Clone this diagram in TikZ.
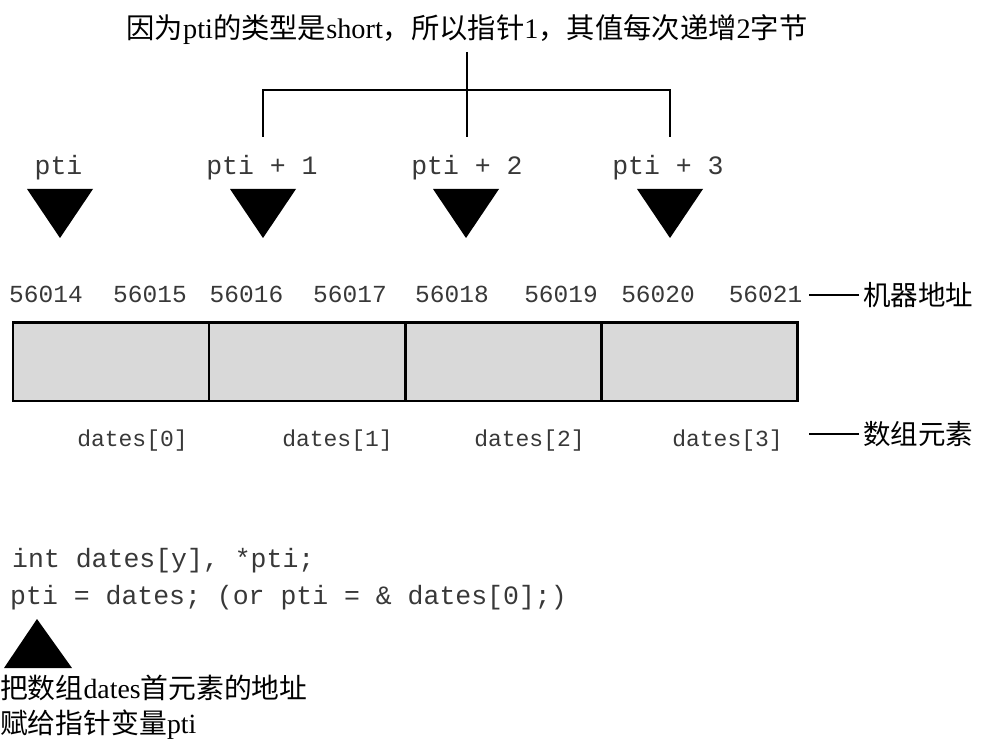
\documentclass[tikz,border=0pt]{standalone}
\usepackage{fontspec}
\setmainfont{Liberation Serif}
\setmonofont{Liberation Mono}
\newfontfamily\zhfont{Noto Sans CJK SC}
\newcommand\zh[1]{{\zhfont #1}}
\definecolor{cellgray}{HTML}{D9D9D9}
\definecolor{codegray}{HTML}{383838}
\begin{document}
\begin{tikzpicture}[x=1pt,y=-1pt,
  mono/.style={font=\ttfamily\fontsize{#1}{#1}\selectfont, text=codegray, inner sep=0pt, anchor=base},
  zhlab/.style={font=\fontsize{#1}{#1}\selectfont, inner sep=0pt},
  cell/.style={draw, line width=2.8pt, fill=cellgray, minimum width=196pt, minimum height=78.5pt, inner sep=0pt},
  bracket/.style={line width=1.5pt},
  dashline/.style={line width=1.3pt},
  pointer/.style={fill=black}
]
\useasboundingbox (0,0) rectangle (982,743);

% title and bracket
\node[zhlab=28.3, anchor=base] (title) at (467,39) {\zh{因为}pti\zh{的类型是}short\zh{，所以指针}1\zh{，其值每次递增}2\zh{字节}};
\coordinate (btop) at (467,52);
\coordinate (bmid) at (467,90);
\coordinate (bl) at (263,90);
\coordinate (br) at (670,90);
\coordinate (bld) at (263,137);
\coordinate (bmd) at (467,137);
\coordinate (brd) at (670,137);
\draw[bracket] (btop) -- (bmd);
\draw[bracket] (bld) -- (bl) -- (br) -- (brd);

% pointer labels
\node[mono=26.5] (p0) at (58.5,175) {pti};
\node[mono=26.5] (p1) at (262,175) {pti + 1};
\node[mono=26.5] (p2) at (467,175) {pti + 2};
\node[mono=26.5] (p3) at (668,175) {pti + 3};
\foreach \c in {60,263,466,670}
  \fill[pointer] (\c-33,189) -- (\c+33,189) -- (\c,238) -- cycle;

% addresses
\node[mono=24.5] (a1) at (46,302) {56014};
\node[mono=24.5] (a2) at (150,302) {56015};
\node[mono=24.5] (a3) at (246.5,302) {56016};
\node[mono=24.5] (a4) at (350,302) {56017};
\node[mono=24.5] (a5) at (452,302) {56018};
\node[mono=24.5] (a6) at (561,302) {56019};
\node[mono=24.5] (a7) at (658,302) {56020};
\node[mono=24.5, inner xsep=7pt] (a8) at (765.5,302) {56021};
\node[zhlab=27.5, anchor=west, inner xsep=4pt] (mach) at (859,295) {\zh{机器地址}};
\draw[dashline] (mach.west) -- (mach.west -| a8.east);

% cells
\node[cell] (c1) at (111,361.75) {};
\node[cell] (c2) at (307,361.75) {};
\node[cell] (c3) at (503.5,361.75) {};
\node[cell] (c4) at (699.5,361.75) {};

% element labels
\node[mono=23] (d0) at (132.5,446) {dates[0]};
\node[mono=23] (d1) at (337.5,446) {dates[1]};
\node[mono=23] (d2) at (529.5,446) {dates[2]};
\node[mono=23] (d3) at (727.5,446) {dates[3]};
\node[zhlab=27.5, anchor=west, inner xsep=4pt] (elem) at (859,434) {\zh{数组元素}};
\draw[dashline] (elem.west) -- (elem.west -| a8.east);

% code
\node[mono=26.5, anchor=base west] (code1) at (12,567) {int dates[y], *pti;};
\node[mono=26.5, anchor=base west] (code2) at (10,604) {pti = dates; (or pti = \& dates[0];)};

% bottom pointer and note
\fill[pointer] (4,668) -- (72,668) -- (37,619) -- cycle;
\node[zhlab=27.8, anchor=base west] (note1) at (0,698) {\zh{把数组}dates\zh{首元素的地址}};
\node[zhlab=27.8, anchor=base west] (note2) at (0,733) {\zh{赋给指针变量}pti};
\end{tikzpicture}
\end{document}
